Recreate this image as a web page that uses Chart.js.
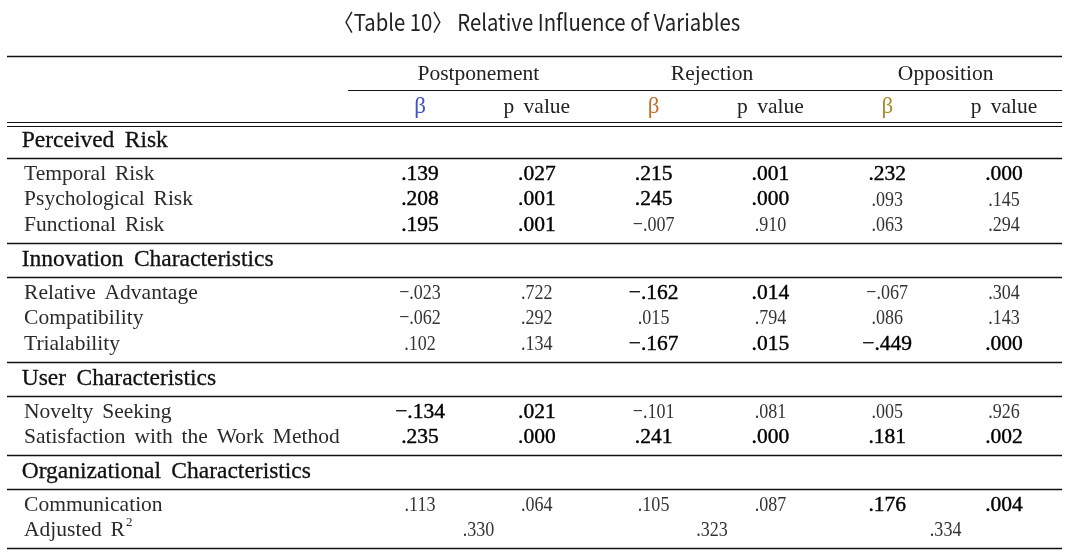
<!DOCTYPE html>
<html><head><meta charset="utf-8">
<script src="https://cdn.jsdelivr.net/npm/chart.js@4.4.1/dist/chart.umd.min.js"></script>
<style>html,body{margin:0;padding:0;background:#fff}#wrap{width:1074px;height:555px;position:relative}</style>
</head><body><div id="wrap"><canvas id="c"></canvas></div>
<script>
// ---------- data ----------
const title = '〈Table 10〉 Relative Influence of Variables';
const groups = ['Postponement', 'Rejection', 'Opposition'];
const subHeaders = ['β', 'p value'];
const sections = ['Perceived Risk', 'Innovation Characteristics', 'User Characteristics', 'Organizational Characteristics'];
const sectionRows = [
  ['Temporal Risk', 'Psychological Risk', 'Functional Risk'],
  ['Relative Advantage', 'Compatibility', 'Trialability'],
  ['Novelty Seeking', 'Satisfaction with the Work Method'],
  ['Communication']
];
const postBeta = [0.139, 0.208, 0.195, -0.023, -0.062, 0.102, -0.134, 0.235, 0.113];
const postP    = [0.027, 0.001, 0.001, 0.722, 0.292, 0.134, 0.021, 0.000, 0.064];
const rejBeta  = [0.215, 0.245, -0.007, -0.162, 0.015, -0.167, -0.101, 0.241, 0.105];
const rejP     = [0.001, 0.000, 0.910, 0.014, 0.794, 0.015, 0.081, 0.000, 0.087];
const oppBeta  = [0.232, 0.093, 0.063, -0.067, 0.086, -0.449, 0.005, 0.181, 0.176];
const oppP     = [0.000, 0.145, 0.294, 0.304, 0.143, 0.000, 0.926, 0.002, 0.004];
const adjLabel = 'Adjusted R';
const adjSup = '2';
const adjR2 = [0.330, 0.323, 0.334];

// ---------- layout (px along y, column units along x) ----------
const L = {
  titleY: 22, topLine: 56, groupY: 74, groupLine: 90, subY: 107, dbl1: 122, dbl2: 126,
  secText: 17, secLine: 34, firstRow: 16.3, pitch: 25.5, lastGap: 17.5,
  xLeft: -2.536, xRight: 6.497, xLabel: -2.39, xSection: -2.41, xGroupLine: 0.384,
  xMin: -2.596, xMax: 6.599
};
const betaColors = ['#3f4fc4', '#c0702a', '#a88a28'];

// build row positions from the table structure
let cur = (L.dbl1 + L.dbl2) / 2;
const secY = [], hLines = [], rowY = [], rowLab = [];
sections.forEach((s, si) => {
  secY.push(cur + L.secText);
  const line = cur + L.secLine;
  hLines.push(line);
  let y = line + L.firstRow;
  const rows = sectionRows[si].slice();
  if (si === sections.length - 1) rows.push(null); // adjusted R² row
  rows.forEach((r, ri) => {
    if (ri > 0) y += L.pitch;
    if (r !== null) { rowY.push(y); rowLab.push(r); } else { L.adjY = y; }
  });
  cur = y + L.lastGap;
  hLines.push(cur);
});
const bottomLine = hLines.pop();

const cols = [postBeta, postP, rejBeta, rejP, oppBeta, oppP];
const fmt = v => (v < 0 ? '−' : '') + Math.abs(v).toFixed(3).replace(/^0/, '');

const datasets = cols.map((arr, ci) => ({
  label: 'c' + ci,
  data: arr.map((v, ri) => ({ x: ci + 1, y: rowY[ri], v, sig: (ci % 2 ? arr[ri] : cols[ci + 1][ri]) < 0.05 })),
  pointRadius: 0, showLine: false
}));
datasets.push({
  label: 'adj',
  data: adjR2.map((v, gi) => ({ x: gi * 2 + 1.5, y: L.adjY, v, sig: false })),
  pointRadius: 0, showLine: false
});

const SERIF = '"Liberation Serif", "DejaVu Serif", serif';
const SANS = '"Noto Sans CJK KR", "DejaVu Sans", sans-serif';

function txt(ctx, s, x, y, opt) {
  ctx.save();
  ctx.font = (opt.size || 21) + 'px ' + (opt.family || SERIF);
  ctx.fillStyle = opt.color || '#222';
  ctx.textBaseline = 'middle';
  if ('wordSpacing' in ctx && opt.ws) ctx.wordSpacing = opt.ws + 'px';
  const w = ctx.measureText(s).width;
  const sx = opt.fitW ? opt.fitW / w : (opt.sx || 1);
  let left = x;
  if (opt.align === 'center') left = x - w * sx / 2;
  ctx.translate(left, y);
  ctx.scale(sx, 1);
  ctx.textAlign = 'left';
  ctx.fillText(s, 0, 0);
  if (opt.stroke) { ctx.lineWidth = opt.stroke; ctx.strokeStyle = ctx.fillStyle; ctx.strokeText(s, 0, 0); }
  ctx.restore();
  return w * sx;
}

const tablePlugin = {
  id: 'table',
  afterDatasetsDraw(chart) {
    const ctx = chart.ctx, xs = chart.scales.x, ys = chart.scales.y;
    const X = v => xs.getPixelForValue(v), Y = v => ys.getPixelForValue(v);
    const hl = (y, x0, x1, w) => {
      ctx.save(); ctx.strokeStyle = '#111'; ctx.lineWidth = w || 1.2;
      ctx.beginPath(); ctx.moveTo(X(x0), Math.round(Y(y)) + 0.5); ctx.lineTo(X(x1), Math.round(Y(y)) + 0.5); ctx.stroke(); ctx.restore();
    };
    // title (sans, fitted to the reference width)
    txt(ctx, title, X(2.0), Y(L.titleY), { family: SANS, size: 23, align: 'center', fitW: 407, color: '#222' });
    // rules
    hl(L.topLine, L.xLeft, L.xRight, 1.6);
    hl(L.groupLine, L.xGroupLine, L.xRight, 1.2);
    hl(L.dbl1, L.xLeft, L.xRight, 1.2);
    hl(L.dbl2, L.xLeft, L.xRight, 1.2);
    hLines.forEach(y => hl(y, L.xLeft, L.xRight, 1.4));
    hl(bottomLine, L.xLeft, L.xRight, 1.6);
    // headers
    groups.forEach((g, gi) => {
      txt(ctx, g, X(gi * 2 + 1.5), Y(L.groupY), { align: 'center', color: '#222', size: 21.5 });
      txt(ctx, subHeaders[0], X(gi * 2 + 1), Y(L.subY), { align: 'center', color: betaColors[gi], size: 23 });
      txt(ctx, subHeaders[1], X(gi * 2 + 2), Y(L.subY), { align: 'center', color: '#222', size: 21.5, ws: 4 });
    });
    // sections and labels
    sections.forEach((s, i) => txt(ctx, s, X(L.xSection), Y(secY[i]), { color: '#111', size: 23.5, ws: 4.5, stroke: 0.3 }));
    rowLab.forEach((r, i) => txt(ctx, r, X(L.xLabel), Y(rowY[i]), { color: '#2a2a2a', size: 21.5, ws: 3.5 }));
    const w = txt(ctx, adjLabel, X(L.xLabel), Y(L.adjY), { color: '#2a2a2a', size: 21.5, ws: 3.5 });
    txt(ctx, adjSup, X(L.xLabel) + w + 1, Y(L.adjY) - 8, { color: '#2a2a2a', size: 13 });
    // values from dataset elements
    chart.data.datasets.forEach((ds, di) => {
      const meta = chart.getDatasetMeta(di);
      meta.data.forEach((el, i) => {
        const d = ds.data[i];
        if (d.sig) txt(ctx, fmt(d.v), el.x, el.y, { align: 'center', color: '#000', size: 21.5, stroke: 0.4 });
        else txt(ctx, fmt(d.v), el.x, el.y, { align: 'center', color: '#333', size: 22, sx: 0.82 });
      });
    });
  }
};

new Chart(document.getElementById('c'), {
  type: 'scatter',
  data: { datasets },
  options: {
    responsive: true, maintainAspectRatio: false, animation: false,
    layout: { padding: 0 },
    plugins: { legend: { display: false }, tooltip: { enabled: false }, title: { display: false } },
    events: [],
    scales: {
      x: { type: 'linear', min: L.xMin, max: L.xMax, display: false },
      y: { type: 'linear', min: 0, max: 555, reverse: true, display: false }
    }
  },
  plugins: [tablePlugin]
});
</script></body></html>
